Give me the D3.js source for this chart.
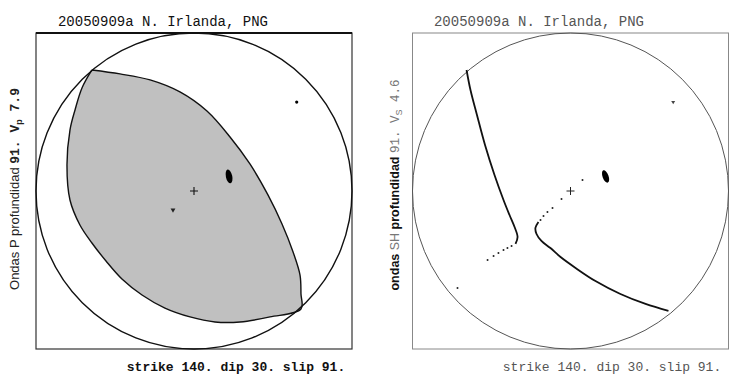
<!DOCTYPE html>
<html>
<head>
<meta charset="utf-8">
<script src="https://cdn.jsdelivr.net/npm/d3@7/dist/d3.min.js"></script>
<style>
  html, body { margin: 0; padding: 0; background: #fff; }
  svg { display: block; }
</style>
</head>
<body>
<svg id="chart" width="730" height="381"></svg>
<script>
// Event and focal mechanism
const eventTitle = "20050909a N. Irlanda, PNG";
const mechanismLabel = "strike 140. dip 30. slip 91.";
const depthKm = "91.";
const vpValue = "7.9";
const vsValue = "4.6";

// Unit-circle coordinates (x east, y north), radius 1 = focal sphere edge
// P-wave compressional quadrant outline
const pCompressionOutline = [
  [-0.646, 0.766], [-0.468, 0.741], [-0.278, 0.703], [-0.089, 0.627],
  [0.082, 0.506], [0.228, 0.342], [0.354, 0.171], [0.468, -0.025],
  [0.557, -0.209], [0.627, -0.386], [0.671, -0.532], [0.677, -0.650],
  [0.677, -0.747], [0.481, -0.797], [0.291, -0.829], [0.133, -0.829],
  [-0.025, -0.797], [-0.184, -0.741], [-0.329, -0.658], [-0.456, -0.557],
  [-0.557, -0.443], [-0.646, -0.329], [-0.722, -0.215], [-0.785, -0.057],
  [-0.804, 0.165], [-0.785, 0.386], [-0.753, 0.513], [-0.709, 0.652],
  [-0.646, 0.766]
];

// SH nodal lines
const shNodalWest = [
  [-0.658, 0.766], [-0.633, 0.639], [-0.592, 0.481], [-0.541, 0.291],
  [-0.481, 0.101], [-0.424, -0.057], [-0.386, -0.152], [-0.354, -0.228],
  [-0.335, -0.291], [-0.348, -0.335]
];
const shNodalEast = [
  [-0.203, -0.196], [-0.222, -0.234], [-0.215, -0.272], [-0.184, -0.316],
  [-0.127, -0.361], [-0.063, -0.418], [0.032, -0.487], [0.158, -0.570],
  [0.316, -0.652], [0.475, -0.715], [0.620, -0.759]
];
const shNodalDots = [
  [-0.373, -0.348], [-0.399, -0.361], [-0.424, -0.373], [-0.456, -0.392],
  [-0.487, -0.411], [-0.525, -0.437], [-0.715, -0.614],
  [-0.190, -0.184], [-0.171, -0.158], [-0.146, -0.133], [-0.114, -0.108],
  [-0.057, -0.051], [0.076, 0.070]
];

// Stations
const stationCluster = [0.222, 0.092];
const stationNE = [0.650, 0.563];
const stationSW = [-0.133, -0.120];

const svg = d3.select("#chart");

function makePanel(cx, cy, R) {
  const x = d3.scaleLinear().domain([-1, 1]).range([cx - R, cx + R]);
  const y = d3.scaleLinear().domain([-1, 1]).range([cy + R, cy - R]);
  const g = svg.append("g");
  return { x, y, g, R };
}

const monoFont = "'Liberation Mono', 'DejaVu Sans Mono', monospace";
const sansFont = "'Liberation Sans', Arial, sans-serif";

// ---------- P-wave panel ----------
(function () {
  const { x, y, g } = makePanel(194, 191, 158);
  const line = d3.line().x(d => x(d[0])).y(d => y(d[1])).curve(d3.curveCatmullRom.alpha(0.5));

  g.append("path")
    .attr("d", line(pCompressionOutline))
    .attr("fill", "#c0c0c0")
    .attr("stroke", "#111")
    .attr("stroke-width", 1.4);

  // frame
  g.append("rect")
    .attr("x", x(-1)).attr("y", y(1))
    .attr("width", x(1) - x(-1)).attr("height", y(-1) - y(1))
    .attr("fill", "none").attr("stroke", "#333").attr("stroke-width", 1.2);
  g.append("line")
    .attr("x1", x(-1)).attr("x2", x(1)).attr("y1", y(1)).attr("y2", y(1))
    .attr("stroke", "#111").attr("stroke-width", 2.2);

  g.append("circle")
    .attr("cx", x(0)).attr("cy", y(0)).attr("r", x(1) - x(0))
    .attr("fill", "none").attr("stroke", "#111").attr("stroke-width", 1.4);

  // centre cross
  g.append("path")
    .attr("d", `M${x(0) - 4},${y(0)}H${x(0) + 4}M${x(0)},${y(0) - 4}V${y(0) + 4}`)
    .attr("stroke", "#111").attr("stroke-width", 1.1);

  g.append("ellipse")
    .attr("cx", x(stationCluster[0])).attr("cy", y(stationCluster[1]))
    .attr("rx", 3.2).attr("ry", 7)
    .attr("transform", `rotate(-12 ${x(stationCluster[0])} ${y(stationCluster[1])})`)
    .attr("fill", "#000");
  g.append("circle")
    .attr("cx", x(stationNE[0])).attr("cy", y(stationNE[1])).attr("r", 1.6)
    .attr("fill", "#000");
  g.append("path")
    .attr("d", d3.symbol(d3.symbolTriangle, 10)())
    .attr("transform", `translate(${x(stationSW[0])},${y(stationSW[1])}) rotate(180)`)
    .attr("fill", "#222");

  svg.append("text")
    .attr("x", 163).attr("y", 26)
    .attr("text-anchor", "middle")
    .attr("font-family", monoFont).attr("font-size", 14)
    .attr("fill", "#111")
    .text(eventTitle);

  svg.append("text")
    .attr("x", 236).attr("y", 371)
    .attr("text-anchor", "middle")
    .attr("font-family", monoFont).attr("font-size", 13).attr("font-weight", "bold")
    .attr("fill", "#111")
    .text(mechanismLabel);

  const lab = svg.append("text")
    .attr("transform", "translate(19,189) rotate(-90)")
    .attr("text-anchor", "middle")
    .attr("font-family", sansFont).attr("font-size", 13)
    .attr("fill", "#222");
  lab.append("tspan").text("Ondas P profundidad ");
  lab.append("tspan").attr("font-family", monoFont).attr("font-weight", "bold").text(depthKm + " V");
  lab.append("tspan").attr("font-size", 9).attr("dy", 3).attr("font-weight", "bold").text("p");
  lab.append("tspan").attr("dy", -3).attr("font-family", monoFont).attr("font-weight", "bold").text(" " + vpValue);
})();

// ---------- SH-wave panel ----------
(function () {
  const { x, y, g } = makePanel(570.5, 191, 158);
  const line = d3.line().x(d => x(d[0])).y(d => y(d[1])).curve(d3.curveCatmullRom.alpha(0.5));

  g.append("rect")
    .attr("x", x(-1)).attr("y", y(1))
    .attr("width", x(1) - x(-1)).attr("height", y(-1) - y(1))
    .attr("fill", "none").attr("stroke", "#888").attr("stroke-width", 1);

  g.append("circle")
    .attr("cx", x(0)).attr("cy", y(0)).attr("r", x(1) - x(0))
    .attr("fill", "none").attr("stroke", "#555").attr("stroke-width", 1);

  [shNodalWest, shNodalEast].forEach(arr => {
    g.append("path")
      .attr("d", line(arr))
      .attr("fill", "none").attr("stroke", "#111").attr("stroke-width", 1.8);
  });

  g.selectAll("circle.dot").data(shNodalDots).join("circle")
    .attr("class", "dot")
    .attr("cx", d => x(d[0])).attr("cy", d => y(d[1])).attr("r", 1)
    .attr("fill", "#222");

  g.append("path")
    .attr("d", `M${x(0) - 4},${y(0)}H${x(0) + 4}M${x(0)},${y(0) - 4}V${y(0) + 4}`)
    .attr("stroke", "#222").attr("stroke-width", 1);

  g.append("ellipse")
    .attr("cx", x(stationCluster[0])).attr("cy", y(stationCluster[1]))
    .attr("rx", 3).attr("ry", 6.5)
    .attr("transform", `rotate(-20 ${x(stationCluster[0])} ${y(stationCluster[1])})`)
    .attr("fill", "#000");
  g.append("path")
    .attr("d", d3.symbol(d3.symbolTriangle, 7)())
    .attr("transform", `translate(${x(stationNE[0])},${y(stationNE[1])}) rotate(180)`)
    .attr("fill", "#444");

  svg.append("text")
    .attr("x", 539).attr("y", 26)
    .attr("text-anchor", "middle")
    .attr("font-family", monoFont).attr("font-size", 14)
    .attr("fill", "#555")
    .text(eventTitle);

  svg.append("text")
    .attr("x", 612).attr("y", 371)
    .attr("text-anchor", "middle")
    .attr("font-family", monoFont).attr("font-size", 13)
    .attr("fill", "#555")
    .text(mechanismLabel);

  const lab = svg.append("text")
    .attr("transform", "translate(399,185) rotate(-90)")
    .attr("text-anchor", "middle")
    .attr("font-family", sansFont).attr("font-size", 12.5)
    .attr("fill", "#111");
  lab.append("tspan").attr("font-weight", "bold").text("ondas ");
  lab.append("tspan").attr("fill", "#777").text("SH ");
  lab.append("tspan").attr("font-weight", "bold").text("profundidad ");
  lab.append("tspan").attr("fill", "#777").attr("font-family", monoFont).text(depthKm + " V");
  lab.append("tspan").attr("fill", "#777").attr("font-size", 9).attr("dy", 3).text("S");
  lab.append("tspan").attr("fill", "#777").attr("dy", -3).attr("font-family", monoFont).text(" " + vsValue);
})();
</script>
</body>
</html>
